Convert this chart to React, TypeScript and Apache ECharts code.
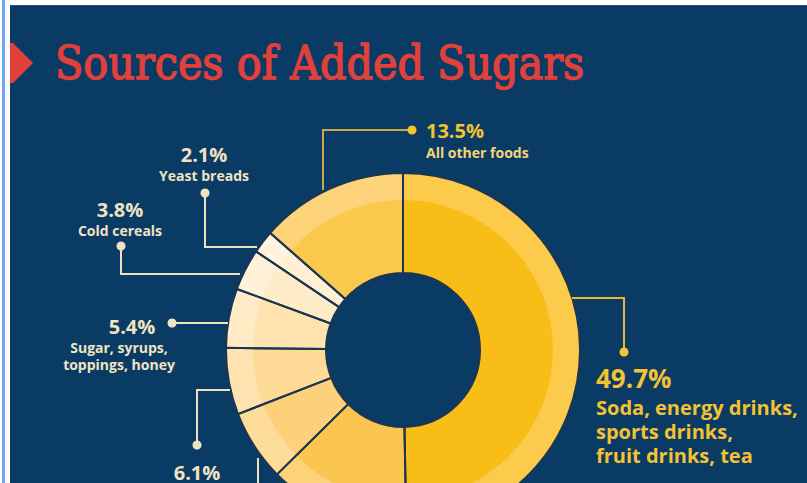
import React, { useEffect, useRef } from "react";
import * as echarts from "echarts";

const categories = [
  "Soda, energy drinks, sports drinks, fruit drinks, tea",
  "Grain-based desserts",
  "Dairy desserts",
  "Candy",
  "Sugar, syrups, toppings, honey",
  "Cold cereals",
  "Yeast breads",
  "All other foods",
];
const values = [49.7, 12.9, 6.5, 6.1, 5.4, 3.8, 2.1, 13.5];
const innerColors = ["#F9BD17", "#FBC650", "#FCD179", "#FDDA95", "#FEE3AF", "#FEEBC8", "#FFF0D4", "#FBC84E"];
const outerColors = ["#FCCB4C", "#FDD37A", "#FDDB98", "#FEE3B0", "#FFEBC6", "#FFF1D8", "#FFF4DF", "#FDD37A"];
const title = "Sources of Added Sugars";

const NAVY = "#0A3B65";
const CREAM = "#F1E3C2";
const YELLOW = "#F4C232";
const FONT = "'Open Sans', 'Noto Sans', sans-serif";

const pct = (i: number) => values[i].toFixed(1) + "%";

export default function App() {
  const ref = useRef<HTMLDivElement>(null);
  useEffect(() => {
    if (!ref.current) return;
    const chart = echarts.init(ref.current, undefined, { renderer: "svg" });
    const center = [403, 350];
    const data = (colors: string[]) =>
      categories.map((c, i) => ({ name: c, value: values[i], itemStyle: { color: colors[i] } }));

    const txt = (x: number, y: number, text: string, size: number, fill: string, align = "center", lineHeight?: number) => ({
      type: "text",
      z: 10,
      style: {
        x, y, text, fill,
        font: `bold ${size}px ${FONT}`,
        textAlign: align,
        textVerticalAlign: lineHeight ? "top" : "middle",
        lineHeight,
      },
    });
    const line = (points: number[][], stroke: string) => ({
      type: "polyline",
      z: 5,
      shape: { points },
      style: { stroke, lineWidth: 2, fill: "none" },
    });
    const dot = (x: number, y: number, fill: string) => ({
      type: "circle",
      z: 6,
      shape: { cx: x, cy: y, r: 4.5 },
      style: { fill },
    });

    const option: any = {
      animation: false,
      backgroundColor: "#FFFFFF",
      graphic: [
        { type: "rect", z: -10, shape: { x: 2, y: 0, width: 3, height: 483 }, style: { fill: "#6FA6F2" } },
        { type: "rect", z: -10, shape: { x: 10, y: 5, width: 797, height: 478 }, style: { fill: NAVY } },
        { type: "rect", z: -9, shape: { x: 10, y: 5, width: 797, height: 1 }, style: { fill: "#2C5478" } },
        {
          type: "polygon", z: 1,
          shape: { points: [[10, 43], [13, 43], [33, 63], [13, 83], [10, 83]] },
          style: { fill: "#E2403A" },
        },
        {
          type: "text", z: 1,
          style: {
            x: 55, y: 63, text: title, fill: "#E2403A",
            stroke: "#E2403A", lineWidth: 1.3,
            font: `46px 'DejaVu Serif Condensed', 'DejaVu Serif', serif`,
            textVerticalAlign: "middle",
          },
        },
        // All other foods
        line([[323, 190], [323, 130], [412, 130]], "#C8A84A"),
        dot(412, 130, YELLOW),
        txt(426, 130, pct(7), 20, YELLOW, "left"),
        txt(426, 152, categories[7], 14, "#F5D57A", "left"),
        // Yeast breads
        line([[205, 193], [205, 247], [257, 247]], CREAM),
        dot(205, 193, CREAM),
        txt(204, 154, pct(6), 20, CREAM),
        txt(204, 175, categories[6], 14, CREAM),
        // Cold cereals
        line([[121, 246], [121, 274], [240, 274]], CREAM),
        dot(121, 246, CREAM),
        txt(120, 209, pct(5), 20, CREAM),
        txt(120, 230, categories[5], 14, CREAM),
        // Sugar, syrups
        line([[172, 323], [228, 323]], CREAM),
        dot(172, 323, CREAM),
        txt(132, 326, pct(4), 20, CREAM),
        txt(119, 339, "Sugar, syrups,\ntoppings, honey", 14, CREAM, "center", 17),
        // Candy
        line([[197, 445], [197, 390], [230, 390]], CREAM),
        dot(197, 445, CREAM),
        txt(197, 472, pct(3), 20, CREAM),
        // Dairy desserts leader (label off-canvas)
        line([[258, 458], [258, 490]], CREAM),
        // Soda
        line([[572, 298], [624, 298], [624, 352]], "#E8B830"),
        dot(624, 352, YELLOW),
        txt(596, 378, pct(0), 26, YELLOW, "left"),
        txt(596, 395, "Soda, energy drinks,\nsports drinks,\nfruit drinks, tea", 20, YELLOW, "left", 24),
      ],
      series: [
        {
          type: "pie", center, radius: [77, 177], startAngle: 90, clockwise: true,
          label: { show: false }, labelLine: { show: false }, silent: true,
          data: data(outerColors), z: 2,
        },
        {
          type: "pie", center, radius: [77, 150], startAngle: 90, clockwise: true,
          label: { show: false }, labelLine: { show: false }, silent: true,
          data: data(innerColors), z: 3,
        },
        {
          type: "pie", center, radius: [77, 177], startAngle: 90, clockwise: true,
          label: { show: false }, labelLine: { show: false }, silent: true,
          itemStyle: { color: "rgba(0,0,0,0)", borderColor: "#1C3550", borderWidth: 2 },
          data: categories.map((c, i) => ({ name: c, value: values[i] })), z: 4,
        },
      ],
    };
    chart.setOption(option);
    return () => chart.dispose();
  }, []);
  return (
    <div
      ref={ref}
      style={{ position: "fixed", left: 0, top: 0, width: 807, height: 483 }}
    />
  );
}
